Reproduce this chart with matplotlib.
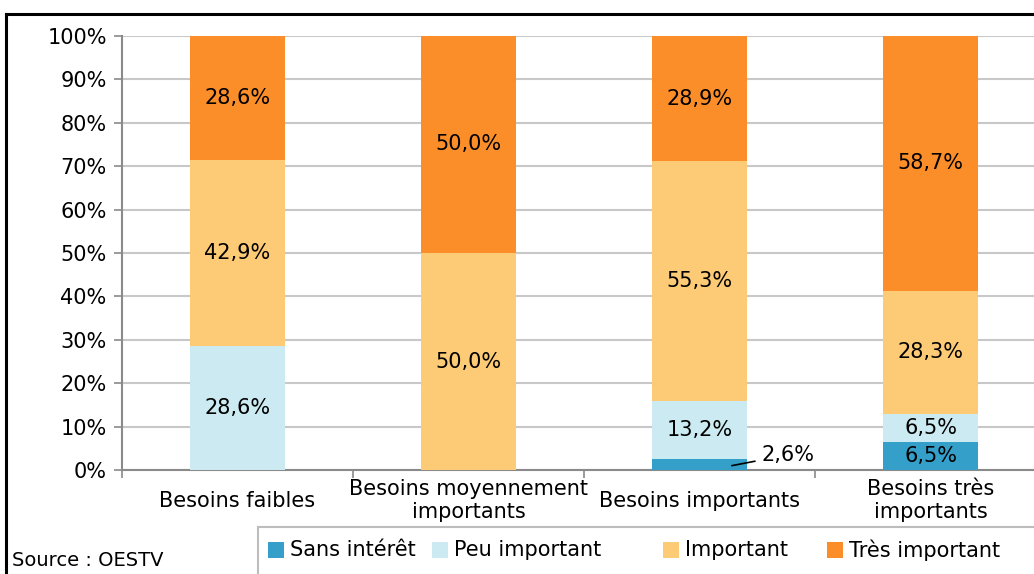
import matplotlib
matplotlib.use("Agg")
import matplotlib.pyplot as plt
from matplotlib.patches import Rectangle
from matplotlib.lines import Line2D
import numpy as np

plt.rcParams['font.family'] = ['DejaVu Sans']

categories = ["Besoins faibles", "Besoins moyennement\nimportants",
              "Besoins importants", "Besoins très\nimportants"]
series_names = ["Sans intérêt", "Peu important", "Important", "Très important"]
sans_interet = [0.0, 0.0, 2.6, 6.5]
peu_important = [28.6, 0.0, 13.2, 6.5]
important = [42.9, 50.0, 55.3, 28.3]
tres_important = [28.6, 50.0, 28.9, 58.7]
yticks = [0, 10, 20, 30, 40, 50, 60, 70, 80, 90, 100]

colors = ["#34A0C9", "#CBEAF1", "#FDCA76", "#FC8E2A"]
series = [sans_interet, peu_important, important, tres_important]

W, H = 1034, 574
fig = plt.figure(figsize=(W / 100, H / 100), dpi=100)
ax = fig.add_axes([122 / W, 1 - 470 / H, (1046 - 122) / W, (470 - 36) / H])

x = np.arange(len(categories))
bottom = np.zeros(len(categories))
fs = 15
for vals, col in zip(series, colors):
    vals = np.array(vals)
    ax.bar(x, vals, width=0.41, bottom=bottom, color=col, zorder=3, linewidth=0)
    for i, v in enumerate(vals):
        if v <= 0:
            continue
        lbl = f"{v:.1f}%".replace(".", ",")
        if v < 4:
            # small segment: label outside with a leader line
            y0 = bottom[i] + v / 2
            ax.annotate(lbl, xy=(x[i] + 0.14, y0 - 0.3), xytext=(x[i] + 0.27, y0 + 2.2),
                        fontsize=fs, va="center", ha="left",
                        arrowprops=dict(arrowstyle="-", color="black", lw=1.2,
                                        shrinkA=3, shrinkB=0),
                        zorder=5)
        else:
            ax.text(x[i], bottom[i] + v / 2, lbl, ha="center", va="center",
                    fontsize=fs, zorder=5)
    bottom += vals

ax.set_xlim(-0.5, 3.5)
ax.set_ylim(0, 100)
ax.set_yticks(yticks)
ax.set_yticklabels([f"{t}%" for t in yticks], fontsize=fs)
ax.yaxis.grid(True, color="#C8C8C8", lw=1.5, zorder=0)
ax.set_xticks(x)
ax.set_xticklabels(categories, fontsize=fs, linespacing=1.15, va="center")
ax.set_xticks([-0.5, 0.5, 1.5, 2.5], minor=True)
ax.tick_params(axis="x", which="major", length=0, pad=22)
ax.tick_params(axis="x", which="minor", length=6, color="#8A8A8A", width=1.2)
ax.tick_params(axis="y", length=6, color="#8A8A8A", width=1.2, pad=5)
for s in ["top", "right"]:
    ax.spines[s].set_visible(False)
for s in ["left", "bottom"]:
    ax.spines[s].set_color("#8A8A8A")
    ax.spines[s].set_linewidth(1.5)

# outer frame of the figure panel
fig.add_artist(Line2D([6 / W, 6 / W], [0, 1 - 14 / H], transform=fig.transFigure,
                      color="black", lw=2.2))
fig.add_artist(Line2D([6 / W, 1.0], [1 - 14 / H, 1 - 14 / H], transform=fig.transFigure,
                      color="black", lw=2.2))

# legend box
fig.add_artist(Rectangle((258 / W, -0.02), (W - 258 + 20) / W, 0.02 + (574 - 527) / H,
                         transform=fig.transFigure, facecolor="white",
                         edgecolor="#BDBDBD", lw=1.5))
sq_x = [268, 432, 663, 827]
for name, col, sx in zip(series_names, colors, sq_x):
    fig.add_artist(Rectangle((sx / W, 1 - 558 / H), 16 / W, 16 / H,
                             transform=fig.transFigure, facecolor=col, lw=0))
    fig.text((sx + 22) / W, 1 - 550 / H, name, fontsize=fs, va="center", ha="left")

fig.text(12 / W, 1 - 560 / H, "Source : OESTV", fontsize=14, va="center", ha="left")

fig.savefig("out.png", dpi=100)
